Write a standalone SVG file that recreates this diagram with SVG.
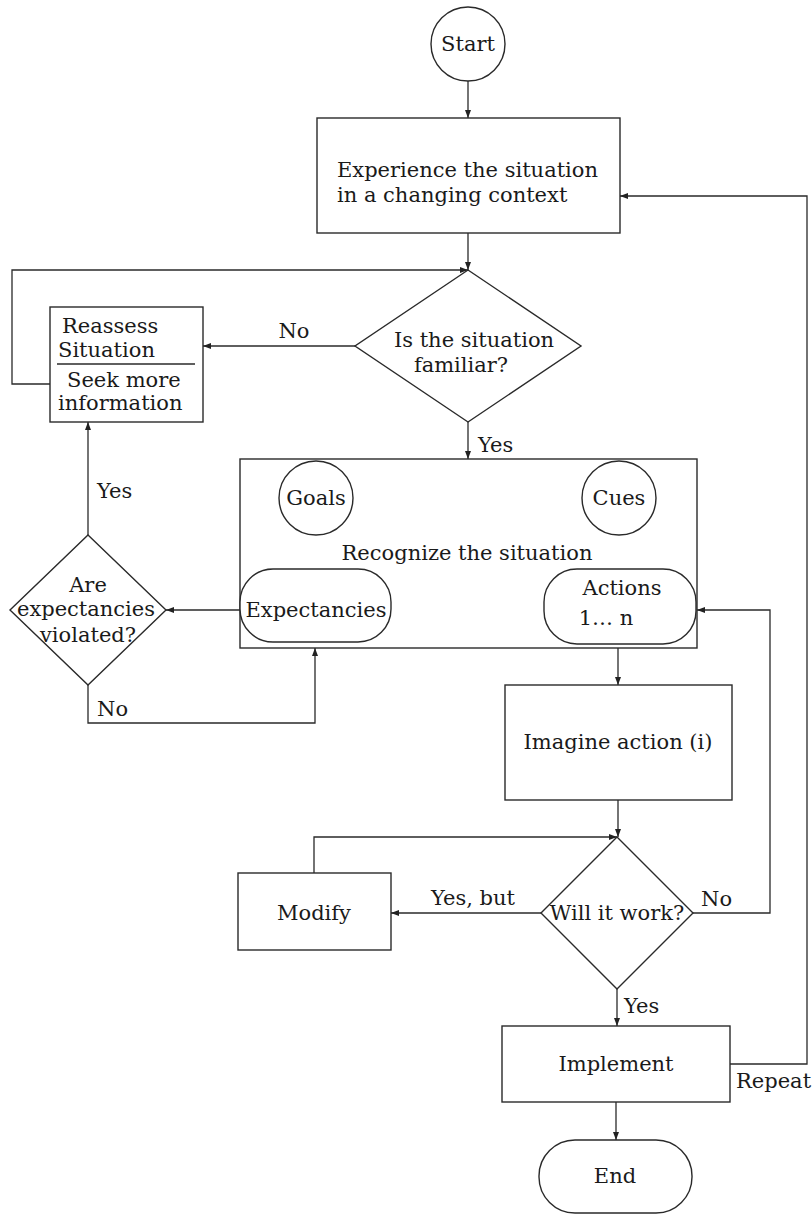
<svg xmlns="http://www.w3.org/2000/svg" width="812" height="1214" viewBox="0 0 812 1214">
<defs>
<marker id="ah" markerUnits="userSpaceOnUse" markerWidth="9" markerHeight="8" refX="8" refY="3.5" orient="auto">
<path d="M0,0.5 L8,3.5 L0,6.5 z" fill="#222"/>
</marker>
<style>
.s{fill:none;stroke:#2a2a2a;stroke-width:1.4}
.n{fill:#fff;stroke:#2a2a2a;stroke-width:1.4}
.c{fill:none;stroke:#2a2a2a;stroke-width:1.3;marker-end:url(#ah)}
text{font-family:"DejaVu Serif","Liberation Serif",serif;font-size:21px;fill:#1a1a1a}
.m{text-anchor:middle}
</style>
</defs>
<rect width="812" height="1214" fill="#fff"/>
<g id="connectors">
<path class="c" d="M468,81 V118"/>
<path class="c" d="M468,233 V270"/>
<path class="c" d="M50,384 H12 V270 H468"/>
<path class="c" d="M355,346 H203"/>
<path class="c" d="M468,422 V459"/>
<path class="c" d="M240,610 H166"/>
<path class="c" d="M88,535 V422"/>
<path class="c" d="M88,685 V723 H315 V648"/>
<path class="c" d="M618,648 V685"/>
<path class="c" d="M618,800 V837"/>
<path class="c" d="M541,913 H391"/>
<path class="c" d="M314,873 V837 H617"/>
<path class="c" d="M693,913 H770 V610 H697"/>
<path class="c" d="M617,989 V1026"/>
<path class="c" d="M730,1064 H807 V196 H620"/>
<path class="c" d="M616,1102 V1140"/>
<text x="294" y="338" class="m">No</text>
<text x="478" y="452">Yes</text>
<text x="97" y="498">Yes</text>
<text x="97" y="716">No</text>
<text x="473" y="905" class="m">Yes, but</text>
<text x="701" y="906">No</text>
<text x="624" y="1013">Yes</text>
<text x="736" y="1088">Repeat</text>
</g>
<g id="start">
<circle class="n" cx="468" cy="44" r="37"/>
<text x="468" y="51" class="m">Start</text>
</g>
<g id="experience">
<rect class="n" x="317" y="118" width="303" height="115"/>
<text x="337" y="177">Experience the situation</text>
<text x="337" y="202">in a changing context</text>
</g>
<g id="familiar">
<polygon class="n" points="468,270 581,346 468,422 355,346"/>
<text x="474" y="347" class="m">Is the situation</text>
<text x="461" y="372" class="m">familiar?</text>
</g>
<g id="reassess">
<rect class="n" x="50" y="307" width="153" height="115"/>
<text x="62" y="333">Reassess</text>
<text x="58" y="357">Situation</text>
<line class="s" x1="57" y1="364" x2="195" y2="364"/>
<text x="67" y="387">Seek more</text>
<text x="58" y="410">information</text>
</g>
<g id="recognize">
<rect class="n" x="240" y="459" width="457" height="189"/>
<text x="467" y="560" class="m">Recognize the situation</text>
</g>
<g id="goals">
<circle class="n" cx="316" cy="498" r="37"/>
<text x="316" y="505" class="m">Goals</text>
</g>
<g id="cues">
<circle class="n" cx="619" cy="498" r="37"/>
<text x="619" y="505" class="m">Cues</text>
</g>
<g id="expectancies">
<rect class="n" x="240" y="569" width="151" height="73" rx="33"/>
<text x="316" y="617" class="m">Expectancies</text>
</g>
<g id="actions">
<rect class="n" x="544" y="569" width="152" height="75" rx="33"/>
<text x="622" y="595" class="m">Actions</text>
<text x="606" y="625" class="m">1… n</text>
</g>
<g id="violated">
<polygon class="n" points="88,535 166,610 88,685 10,610"/>
<text x="88" y="592" class="m">Are</text>
<text x="86" y="616" class="m">expectancies</text>
<text x="88" y="642" class="m">violated?</text>
</g>
<g id="imagine">
<rect class="n" x="505" y="685" width="227" height="115"/>
<text x="618" y="749" class="m">Imagine action (i)</text>
</g>
<g id="work">
<polygon class="n" points="617,837 693,913 617,989 541,913"/>
<text x="617" y="920" class="m">Will it work?</text>
</g>
<g id="modify">
<rect class="n" x="238" y="873" width="153" height="77"/>
<text x="314" y="920" class="m">Modify</text>
</g>
<g id="implement">
<rect class="n" x="502" y="1026" width="228" height="76"/>
<text x="616" y="1071" class="m">Implement</text>
</g>
<g id="end">
<rect class="n" x="539" y="1140" width="153" height="73" rx="36"/>
<text x="615" y="1183" class="m">End</text>
</g>
</svg>
